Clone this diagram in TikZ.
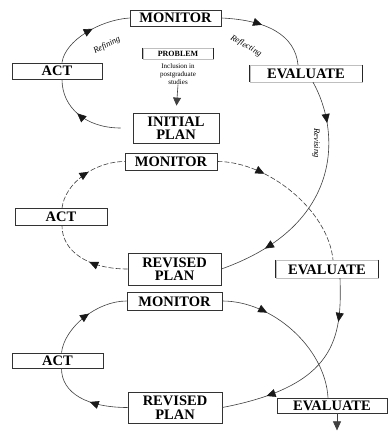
\documentclass[tikz,border=0pt]{standalone}
\usepackage{fontspec}
\setmainfont{Liberation Serif}
\usetikzlibrary{arrows.meta,decorations.markings,calc}
\begin{document}
\begin{tikzpicture}[x=1pt,y=-1pt,
  conn/.style={draw=black!75, line width=0.6pt},
  dashconn/.style={conn, dash pattern=on 5pt off 2pt},
  tipA/.style={postaction={decorate}, decoration={markings,
     mark=at position #1 with {\arrow[black!90,solid]{Triangle[length=9pt,width=8pt]}}}},
  tipB/.style 2 args={postaction={decorate}, decoration={markings,
     mark=at position #1 with {\arrow[black!90,solid]{Triangle[length=9pt,width=8pt]}},
     mark=at position #2 with {\arrow[black!90,solid]{Triangle[length=9pt,width=8pt]}}}},
  box/.style={draw=black!80, line width=0.8pt, inner sep=0pt,
     font=\fontsize{14.5}{13.5}\selectfont\bfseries, align=center},
  boxone/.style={box, text height=10pt, text depth=0pt},
  evalbox/.style={boxone, draw=black!25, line width=0.4pt},
  bar/.style={draw=black!85, line width=1.1pt},
  lbl/.style={font=\fontsize{8.5}{8.5}\selectfont\itshape, inner sep=0pt}
]
\useasboundingbox[fill=white] (0,0) rectangle (390,435);

% ---- nodes ----
\node[boxone, minimum width=91pt, minimum height=16pt] (mon1) at (175.5,18) {MONITOR};
\node[boxone, minimum width=90pt, minimum height=16pt] (act1) at (57,71) {ACT};
\node[evalbox, minimum width=112pt, minimum height=17pt] (eval1) at (306,73.5) {EVALUATE};
\node[draw=black!25, line width=0.4pt, inner sep=0pt, minimum width=70pt, minimum height=11pt,
      font=\fontsize{8}{8}\selectfont\bfseries] (prob) at (178,53.5) {PROBLEM};
\node[inner sep=0pt, align=center, font=\fontsize{7}{8}\selectfont] (probtext) at (178,74)
      {Inclusion in\\postgraduate\\studies};
\node[box, minimum width=86pt, minimum height=30pt] (init) at (176,128) {INITIAL\\PLAN};

\node[boxone, minimum width=92pt, minimum height=17pt] (mon2) at (171,161.5) {MONITOR};
\node[boxone, minimum width=92pt, minimum height=17pt] (act2) at (61,217) {ACT};
\node[box, minimum width=93pt, minimum height=32pt] (rev1) at (174.5,269) {REVISED\\PLAN};
\node[evalbox, minimum width=102pt, minimum height=18pt] (eval2) at (327,269) {EVALUATE};

\node[boxone, minimum width=95pt, minimum height=18pt] (mon3) at (174.5,301) {MONITOR};
\node[boxone, minimum width=91pt, minimum height=15pt] (act3) at (57.5,360.5) {ACT};
\node[box, minimum width=94pt, minimum height=31pt] (rev2) at (175,407.5) {REVISED\\PLAN};
\node[boxone, minimum width=110pt, minimum height=15pt] (eval3) at (332,405.5) {EVALUATE};

% bracket bars
\draw[bar] (eval1.north west) -- (eval1.south west);
\draw[bar] (eval1.north east) -- (eval1.south east);
\draw[bar] (eval2.north west) -- (eval2.south west);
\draw[bar] (eval2.north east) -- (eval2.south east);
\draw[bar, line width=0.9pt] (prob.north west) -- (prob.south west);
\draw[bar, line width=0.9pt] (prob.north east) -- (prob.south east);

% ---- connectors, cycle 1 ----
\draw[conn, -{Triangle[length=8pt,width=8pt]}, shorten >=7pt] (probtext.south) -- (init.north);
\coordinate (initout) at ($(init.west)+(-12,0)$);
\path[conn, tipA=0.55] (initout) .. controls +(-35,0) and +(0,28) .. ($(act1.south)+(5,0)$);
\path[conn, tipA=0.55] ($(act1.north)+(5,0)$) .. controls +(3,-22) and +(-30,2) .. (mon1.west);
\path[conn, tipA=0.42] (mon1.east) .. controls +(45,2) and +(-3,-30) .. ($(eval1.north)+(-8,0)$);
\path[conn, tipB={0.18}{0.8}] ($(eval1.south)+(7,0)$) .. controls +(27,48) and +(124,-44) .. (rev1.east);

% ---- cycle 2 ----
\path[dashconn, tipA=0.45] (rev1.west) .. controls +(-40,0) and +(0,25) .. ($(act2.south)+(1,0)$);
\path[dashconn, tipA=0.55] ($(act2.north)+(1,0)$) .. controls +(3,-25) and +(-30,0) .. (mon2.west);
\path[dashconn, tipA=0.3] (mon2.east) .. controls +(50,0) and +(-5,-50) .. ($(eval2.north)+(6,0)$);
\path[conn, tipB={0.22}{0.77}] ($(eval2.south)+(13,0)$) .. controls +(2,60) and +(114,-22) .. (rev2.east);

% ---- cycle 3 ----
\path[conn, tipA=0.45] (rev2.west) .. controls +(-40,0) and +(0,25) .. ($(act3.south)+(4,0)$);
\path[conn, tipA=0.55] ($(act3.north)+(4,0)$) .. controls +(3,-25) and +(-30,0) .. (mon3.west);
\path[conn, tipA=0.3] (mon3.east) .. controls +(50,0) and +(-3,-50) .. ($(eval3.north)+(-4,0)$);
\coordinate (endpt) at ($(eval3.south)+(5,17)$);
\draw[conn, -{Triangle[length=9pt,width=8pt]}] ($(eval3.south)+(5,0)$) -- (endpt);

% ---- labels ----
\node[lbl, rotate=27] (refining) at (107,45) {Refining};
\node[lbl, rotate=-30] (reflecting) at (246,46) {Reflecting};
\node[lbl, rotate=-90] (revising) at (316,143) {Revising};
\end{tikzpicture}
\end{document}
